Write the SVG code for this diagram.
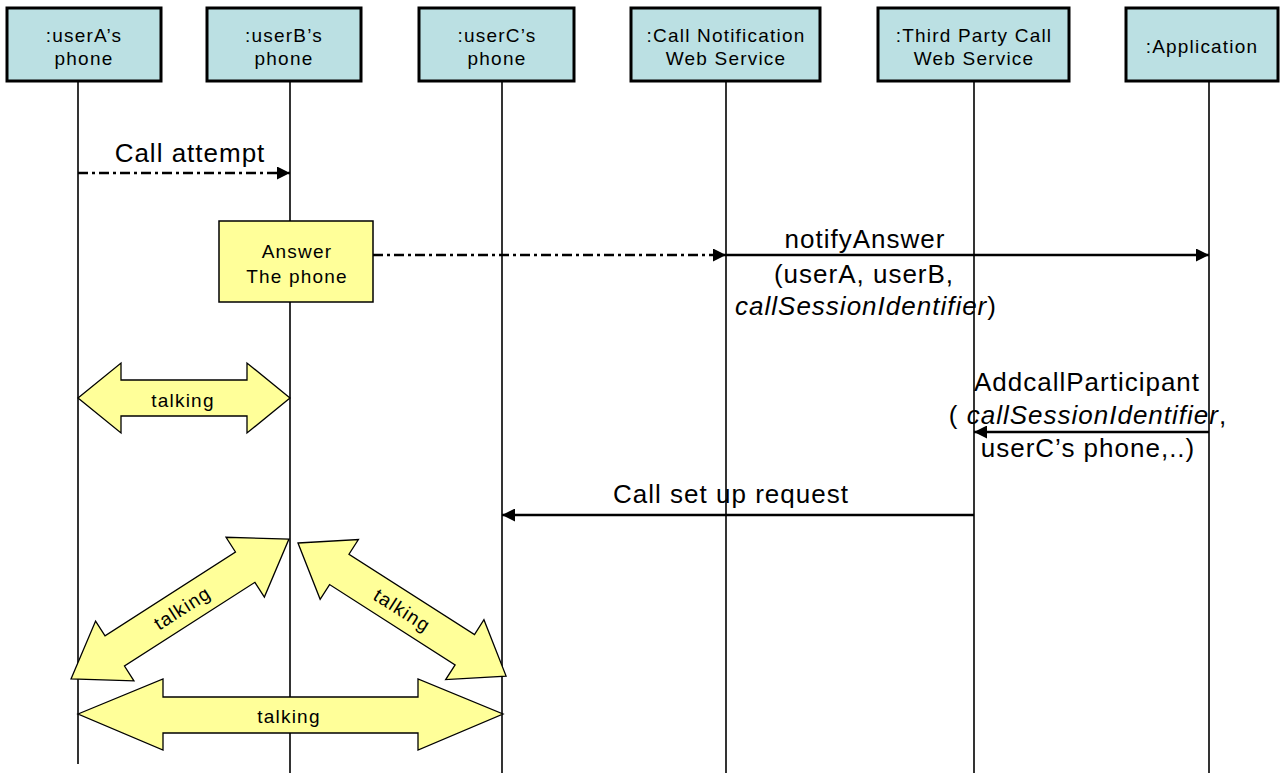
<svg xmlns="http://www.w3.org/2000/svg" width="1283" height="773" viewBox="0 0 1283 773">
<defs>
<style>
.hdr{fill:#BBE0E3;stroke:#000;stroke-width:3}
.life{stroke:#000;stroke-width:1.6;fill:none}
.t{font-family:"Liberation Sans",Arial,sans-serif;font-size:19px;letter-spacing:1.2px;fill:#000;text-anchor:middle}
.m{font-family:"Liberation Sans",Arial,sans-serif;font-size:26px;letter-spacing:1px;fill:#000;text-anchor:middle}
.it{font-style:italic}
.msg{stroke:#000;stroke-width:2.5;fill:none}
.dd{stroke-dasharray:10 4 3 4}
.big{fill:#FFFF99;stroke:#000;stroke-width:1.3;stroke-linejoin:miter}
.note{fill:#FFFF99;stroke:#000;stroke-width:1.5}
</style>
<marker id="ah" markerWidth="13" markerHeight="13" refX="13" refY="6.5" orient="auto" markerUnits="userSpaceOnUse">
<path d="M0,0 L13,6.5 L0,13 Z" fill="#000"/>
</marker>
</defs>
<rect width="1283" height="773" fill="#fff"/>

<g id="lifelines">
<line class="life" x1="78" y1="81" x2="78" y2="764"/>
<line class="life" x1="290" y1="81" x2="290" y2="773"/>
<line class="life" x1="502" y1="81" x2="502" y2="773"/>
<line class="life" x1="726" y1="81" x2="726" y2="773"/>
<line class="life" x1="974" y1="81" x2="974" y2="773"/>
<line class="life" x1="1209" y1="81" x2="1209" y2="773"/>
</g>

<g id="userA">
<rect class="hdr" x="7" y="8" width="154" height="73"/>
<text class="t" x="84" y="42">:userA’s</text>
<text class="t" x="84" y="65">phone</text>
</g>
<g id="userB">
<rect class="hdr" x="207" y="8" width="154" height="73"/>
<text class="t" x="284" y="42">:userB’s</text>
<text class="t" x="284" y="65">phone</text>
</g>
<g id="userC">
<rect class="hdr" x="419" y="8" width="155" height="73"/>
<text class="t" x="497" y="42">:userC’s</text>
<text class="t" x="497" y="65">phone</text>
</g>
<g id="callNotification">
<rect class="hdr" x="631" y="8" width="189" height="73"/>
<text class="t" x="726" y="42">:Call Notification</text>
<text class="t" x="726" y="65">Web Service</text>
</g>
<g id="thirdParty">
<rect class="hdr" x="878" y="8" width="191" height="73"/>
<text class="t" x="974" y="42">:Third Party Call</text>
<text class="t" x="974" y="65">Web Service</text>
</g>
<g id="application">
<rect class="hdr" x="1126" y="8" width="152" height="73"/>
<text class="t" x="1202" y="53">:Application</text>
</g>

<g id="answerBox">
<rect class="note" x="219" y="221" width="154" height="81"/>
<text class="t" x="297" y="258">Answer</text>
<text class="t" x="297" y="283">The phone</text>
</g>

<g id="connectors">
<line class="msg dd" x1="78" y1="173" x2="290" y2="173" marker-end="url(#ah)"/>
<line class="msg dd" x1="373" y1="255" x2="726" y2="255" marker-end="url(#ah)"/>
<line class="msg" x1="726" y1="255" x2="1209" y2="255" marker-end="url(#ah)"/>
<line class="msg" x1="1209" y1="432" x2="974" y2="432" marker-end="url(#ah)"/>
<line class="msg" x1="974" y1="515" x2="502" y2="515" marker-end="url(#ah)"/>
</g>

<g id="labels">
<text class="m" x="190" y="162">Call attempt</text>
<text class="m" x="865" y="248">notifyAnswer</text>
<text class="m" x="864" y="283">(userA, userB,</text>
<text class="m" x="866" y="315"><tspan class="it">callSessionIdentifier</tspan>)</text>
<text class="m" x="1087" y="391">AddcallParticipant</text>
<text class="m" x="1088" y="424">( <tspan class="it">callSessionIdentifier</tspan>,</text>
<text class="m" x="1088" y="457">userC’s phone,..)</text>
<text class="m" x="731" y="503">Call set up request</text>
</g>

<g id="talkAB">
<polygon class="big" points="78,398 121,363 121,380 247,380 247,363 290,398 247,433 247,416 121,416 121,433"/>
<text class="t" x="183" y="407">talking</text>
</g>

<g id="talkAB2" transform="translate(71,679) rotate(-32.7)">
<polygon class="big" points="0,0 52,-35.5 52,-18 207,-18 207,-35.5 259,0 207,35.5 207,18 52,18 52,35.5"/>
<text class="t" x="132" y="7">talking</text>
</g>

<g id="talkBC" transform="translate(298,543) rotate(32.6)">
<polygon class="big" points="0,0 49,-35.5 49,-18 198,-18 198,-35.5 247,0 198,35.5 198,18 49,18 49,35.5"/>
<text class="t" x="124" y="7">talking</text>
</g>

<g id="talkAC">
<polygon class="big" points="78,714 163,679 163,697 418,697 418,679 503,714 418,750 418,733 163,733 163,750"/>
<text class="t" x="289" y="723">talking</text>
</g>
</svg>
